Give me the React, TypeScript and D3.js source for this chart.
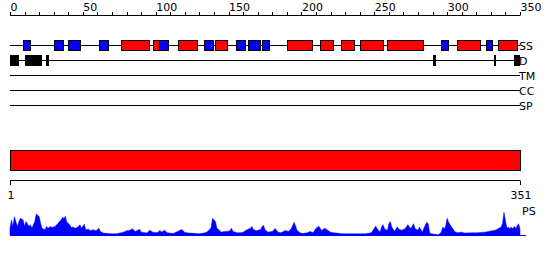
import React from "react";
import * as d3 from "d3";

// ---- data ----
const AXIS_MAX = 350;
const SEQ_LEN = 351;
const topTickValues = d3.range(0, 351, 10);
const topTickLabels = [0, 50, 100, 150, 200, 250, 300, 350];
const bottomTickLabels = [1, 351];
const rowLabels = ["SS", "D", "TM", "CC", "SP"];

// secondary structure: H = helix (red), E = strand (blue)
const ssType = ["E", "E", "E", "E", "H", "H", "E", "H", "E", "H", "E", "E", "E", "H", "H", "H", "H", "H", "E", "H", "E", "H"];
const ssStart = [9, 30, 40, 61, 76, 98, 102, 115, 133, 141, 155, 163, 173, 190, 213, 227, 240, 259, 296, 307, 327, 335];
const ssEnd = [14, 36, 48, 67, 95, 102, 108, 128, 139, 149, 161, 171, 178, 207, 222, 236, 256, 284, 301, 323, 331, 348];

// disorder segments
const disStart = [0, 10, 25, 290, 332, 346];
const disEnd = [6, 22, 27, 292, 333, 350];

// protein-binding score profile
const psResidues = [1, 2, 3, 4, 6, 8, 10, 11, 12, 14, 15, 16, 18, 19, 21, 22, 23, 25, 26, 27, 29, 30, 32, 34, 36, 37, 38, 39, 40, 42, 43, 44, 46, 48, 49, 50, 52, 53, 55, 56, 58, 60, 62, 63, 65, 70, 74, 79, 81, 83, 85, 87, 88, 90, 91, 95, 97, 99, 102, 104, 105, 107, 109, 113, 116, 119, 121, 124, 129, 131, 134, 136, 138, 139, 140, 142, 143, 145, 146, 148, 150, 152, 153, 154, 157, 159, 161, 163, 164, 166, 167, 168, 170, 173, 174, 175, 176, 178, 181, 183, 185, 187, 190, 192, 194, 196, 197, 198, 200, 202, 205, 207, 209, 211, 213, 214, 215, 217, 219, 221, 223, 225, 229, 236, 245, 249, 251, 252, 253, 255, 256, 257, 258, 260, 261, 262, 263, 265, 266, 267, 268, 270, 272, 273, 274, 276, 277, 278, 279, 281, 282, 284, 285, 287, 288, 289, 290, 295, 297, 298, 299, 300, 301, 302, 304, 305, 306, 308, 311, 313, 318, 322, 327, 332, 334, 336, 338, 339, 340, 341, 342, 343, 344, 345, 346, 347, 348, 349, 350, 351];
const psValues = [0.3, 0.65, 0.38, 0.78, 0.38, 0.72, 0.65, 0.38, 0.58, 0.38, 0.45, 0.3, 0.58, 0.9, 0.79, 0.51, 0.3, 0.24, 0.38, 0.3, 0.38, 0.33, 0.38, 0.51, 0.65, 0.75, 0.72, 0.8, 0.55, 0.45, 0.33, 0.35, 0.3, 0.38, 0.45, 0.3, 0.47, 0.24, 0.26, 0.2, 0.24, 0.2, 0.3, 0.17, 0.1, 0.07, 0.07, 0.14, 0.2, 0.21, 0.28, 0.17, 0.2, 0.26, 0.14, 0.1, 0.22, 0.14, 0.11, 0.21, 0.14, 0.22, 0.11, 0.08, 0.17, 0.25, 0.12, 0.1, 0.08, 0.07, 0.1, 0.14, 0.25, 0.33, 0.72, 0.58, 0.3, 0.2, 0.14, 0.17, 0.17, 0.2, 0.3, 0.17, 0.11, 0.11, 0.14, 0.22, 0.25, 0.3, 0.38, 0.25, 0.2, 0.25, 0.38, 0.42, 0.24, 0.14, 0.17, 0.29, 0.14, 0.11, 0.21, 0.17, 0.28, 0.55, 0.39, 0.21, 0.11, 0.08, 0.11, 0.17, 0.11, 0.3, 0.39, 0.28, 0.21, 0.3, 0.22, 0.14, 0.11, 0.1, 0.07, 0.07, 0.07, 0.11, 0.3, 0.39, 0.28, 0.14, 0.36, 0.45, 0.28, 0.21, 0.49, 0.58, 0.35, 0.17, 0.3, 0.35, 0.25, 0.22, 0.28, 0.35, 0.45, 0.28, 0.39, 0.49, 0.28, 0.22, 0.35, 0.14, 0.3, 0.55, 0.49, 0.11, 0.07, 0.03, 0.14, 0.35, 0.28, 0.39, 0.72, 0.55, 0.35, 0.28, 0.17, 0.11, 0.14, 0.1, 0.11, 0.11, 0.14, 0.2, 0.22, 0.28, 0.35, 0.49, 0.97, 0.62, 0.3, 0.35, 0.28, 0.35, 0.28, 0.38, 0.3, 0.39, 0.49, 0.28];

const FONT = "'DejaVu Sans', Verdana, sans-serif";

export default function App() {
  const left = 10;
  const right = 520;
  const xTop = d3.scaleLinear().domain([0, AXIS_MAX]).range([left, right]);
  const xBot = d3.scaleLinear().domain([1, SEQ_LEN]).range([left, right]);
  const rowY = [45.5, 60.5, 75.5, 90.5, 105.5];
  const baseY = 235.5;
  const yPS = d3.scaleLinear().domain([0, 1]).range([baseY, 211.5]);

  const psData: [number, number][] = psResidues.map((r, i) => [r, psValues[i]]);
  const area = d3
    .area<[number, number]>()
    .x((d) => xBot(d[0]))
    .y0(baseY)
    .y1((d) => yPS(d[1]));

  return (
    <svg
      width={550}
      height={260}
      style={{ position: "absolute", left: 0, top: 0, background: "#fff" }}
      fontFamily={FONT}
      fontSize={11}
    >
      <rect x={0} y={0} width={550} height={260} fill="#fff" />
      {/* top axis */}
      <line x1={xTop(0)} x2={xTop(AXIS_MAX)} y1={15.5} y2={15.5} stroke="#000" />
      {topTickValues.map((t) => (
        <line key={t} x1={Math.round(xTop(t)) + 0.5} x2={Math.round(xTop(t)) + 0.5} y1={12} y2={15.5} stroke="#000" />
      ))}
      {topTickLabels.map((t) => (
        <text key={t} x={xTop(t) + 0.5} y={11} textAnchor="start" fill="#000">
          {t}
        </text>
      ))}

      {/* track lines */}
      {rowY.map((y, i) => (
        <g key={i}>
          <line x1={left} x2={right} y1={y} y2={y} stroke="#000" />
          <text x={right - 1} y={y + 4} fill="#000">
            {rowLabels[i]}
          </text>
        </g>
      ))}

      {/* secondary structure */}
      {ssType.map((t, i) => (
        <rect
          key={i}
          x={Math.round(xTop(ssStart[i])) + 0.5}
          y={rowY[0] - 5}
          width={Math.max(1, Math.round(xTop(ssEnd[i]) - xTop(ssStart[i])))}
          height={10}
          fill={t === "H" ? "#ff0000" : "#0000ff"}
          stroke="#000"
        />
      ))}

      {/* disorder */}
      {disStart.map((s, i) => (
        <rect
          key={i}
          x={Math.round(xTop(s))}
          y={rowY[1] - 5.5}
          width={Math.max(2, Math.round(xTop(disEnd[i]) - xTop(s)))}
          height={11}
          fill="#000"
        />
      ))}

      {/* domain bar */}
      <rect x={xBot(1) + 0.5} y={150.5} width={xBot(SEQ_LEN) - xBot(1)} height={20} fill="#ff0000" stroke="#000" />

      {/* bottom axis */}
      <line x1={xBot(1)} x2={xBot(SEQ_LEN)} y1={180.5} y2={180.5} stroke="#000" />
      {bottomTickLabels.map((t) => (
        <g key={t}>
          <line x1={xBot(t) + 0.5} x2={xBot(t) + 0.5} y1={180.5} y2={185} stroke="#000" />
          <text x={xBot(t) + 1} y={199} textAnchor="middle" fill="#000">
            {t}
          </text>
        </g>
      ))}

      {/* PS profile */}
      <path d={area(psData) || ""} fill="#0000ff" stroke="#0000ff" strokeWidth={0.5} />
      <line x1={left} x2={right + 6} y1={baseY} y2={baseY} stroke="#0000ff" />
      <text x={522} y={215} fill="#000">
        PS
      </text>
    </svg>
  );
}
